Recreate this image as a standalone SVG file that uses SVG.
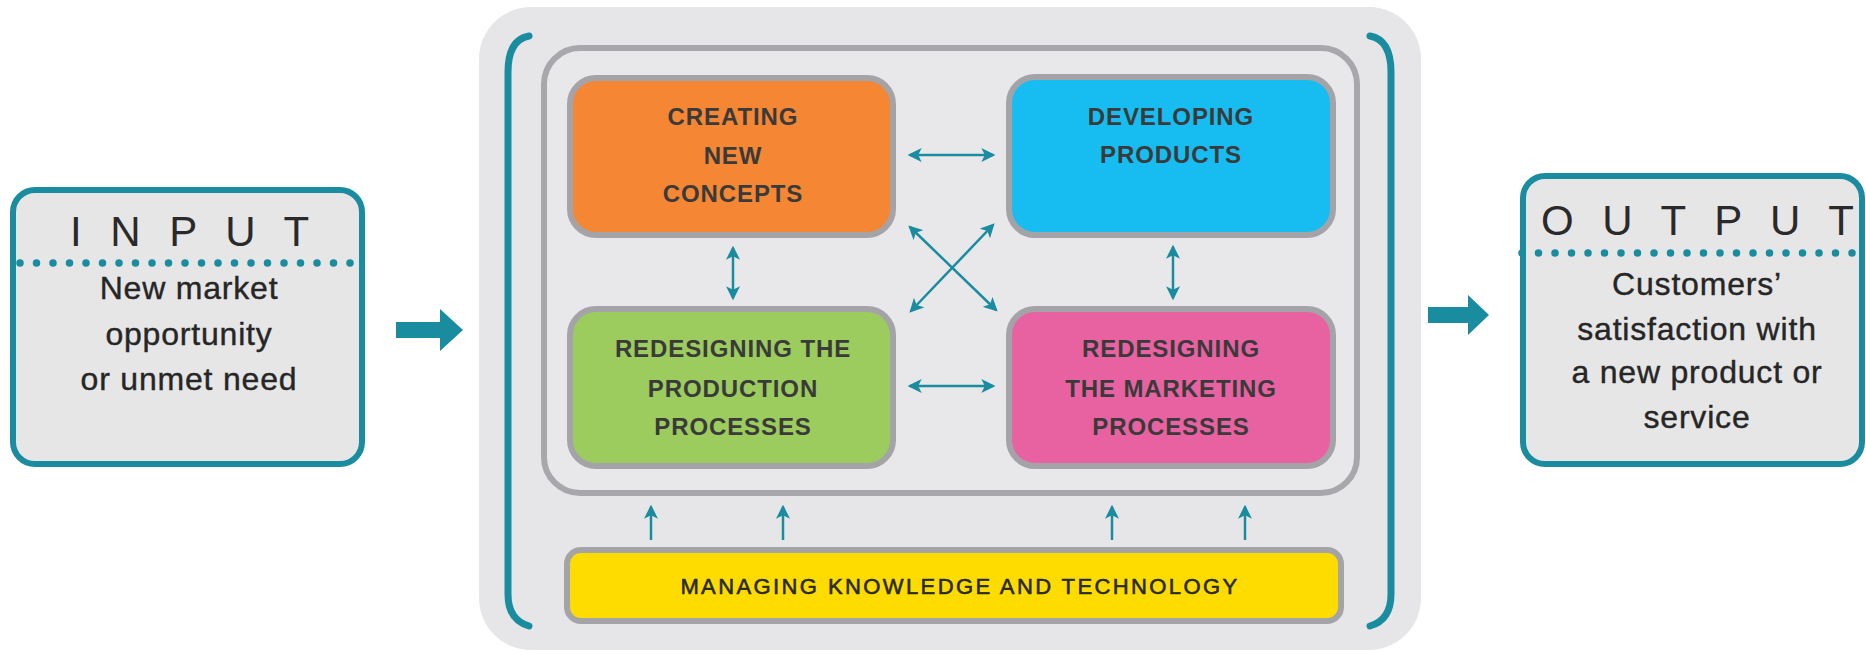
<svg xmlns="http://www.w3.org/2000/svg" width="1866" height="653" viewBox="0 0 1866 653">
<style>
.io{fill:#e6e6e6;stroke:#1a8ca0;stroke-width:6}
.dots{stroke:#1a8ca0;stroke-width:7.5;stroke-linecap:round;stroke-dasharray:0 16.5;fill:none}
.head{font-family:"Liberation Sans",Arial,sans-serif;font-size:42px;fill:#2a2a2a;letter-spacing:8.5px}
.body{font-family:"Liberation Sans",Arial,sans-serif;font-size:32px;fill:#262626;stroke:#262626;stroke-width:0.4;letter-spacing:0.8px;text-anchor:middle}
.box{stroke:#a4a4a8;stroke-width:6}
.lbl{font-family:"Liberation Sans",Arial,sans-serif;font-size:24px;font-weight:bold;fill:#3a3a3a;letter-spacing:0.9px;text-anchor:middle}
.con{stroke:#1a8ca0;stroke-width:2.5;fill:none}
.bracket{stroke:#1a8ca0;stroke-width:7;fill:none;stroke-linecap:round}
.big{fill:#1a8ca0}
</style>
<defs>
<marker id="ah" viewBox="0 0 12 12" refX="10" refY="6" markerWidth="14" markerHeight="14" markerUnits="userSpaceOnUse" orient="auto-start-reverse">
<path d="M0,0 L12,6 L0,12 L3,6 Z" fill="#1a8ca0"/>
</marker>
</defs>

<g id="center-panel">
<rect x="479" y="7" width="942" height="643" rx="52" fill="#e6e6e8"/>
<path class="bracket" d="M529,36 Q508,40 508,72 L508,594 Q508,620 529,626"/>
<path class="bracket" d="M1370,36 Q1391,40 1391,72 L1391,594 Q1391,620 1370,626"/>
<rect x="544" y="48" width="813" height="445" rx="36" fill="#e8e8ea" stroke="#a8a8ac" stroke-width="6"/>
</g>

<g id="input">
<rect class="io" x="13" y="190" width="349" height="274" rx="22"/>
<line class="dots" x1="20" y1="263" x2="352" y2="263"/>
<text class="head" x="70" y="246">I N P U T</text>
<text class="body" x="189" y="299">New market</text>
<text class="body" x="189" y="345">opportunity</text>
<text class="body" x="189" y="390">or unmet need</text>
</g>

<g id="output">
<rect class="io" x="1523" y="176" width="339" height="288" rx="22"/>
<line class="dots" x1="1522" y1="253" x2="1864" y2="253"/>
<text class="head" x="1541" y="235">O U T P U T</text>
<text class="body" x="1697" y="295">Customers’</text>
<text class="body" x="1697" y="340">satisfaction with</text>
<text class="body" x="1697" y="383">a new product or</text>
<text class="body" x="1697" y="428">service</text>
</g>

<g id="creating">
<rect class="box" x="570" y="78" width="323" height="157" rx="26" fill="#f58634"/>
<text class="lbl" x="733" y="125">CREATING</text>
<text class="lbl" x="733" y="164">NEW</text>
<text class="lbl" x="733" y="202">CONCEPTS</text>
</g>

<g id="developing">
<rect class="box" x="1009" y="77" width="324" height="158" rx="26" fill="#17bdf0"/>
<text class="lbl" x="1171" y="125">DEVELOPING</text>
<text class="lbl" x="1171" y="163">PRODUCTS</text>
</g>

<g id="production">
<rect class="box" x="570" y="309" width="323" height="157" rx="26" fill="#9ccb5e"/>
<text class="lbl" x="733" y="357">REDESIGNING THE</text>
<text class="lbl" x="733" y="397">PRODUCTION</text>
<text class="lbl" x="733" y="435">PROCESSES</text>
</g>

<g id="marketing">
<rect class="box" x="1009" y="309" width="324" height="157" rx="26" fill="#e862a2"/>
<text class="lbl" x="1171" y="357">REDESIGNING</text>
<text class="lbl" x="1171" y="397">THE MARKETING</text>
<text class="lbl" x="1171" y="435">PROCESSES</text>
</g>

<g id="knowledge">
<rect class="box" x="567" y="550" width="774" height="71" rx="14" fill="#ffdc00"/>
<text class="lbl" x="960" y="594" style="font-size:22px;font-weight:normal;letter-spacing:2.4px;fill:#2a2a2a;stroke:#2a2a2a;stroke-width:0.6">MANAGING KNOWLEDGE AND TECHNOLOGY</text>
</g>

<g id="connectors">
<polygon class="big" points="396,322 440,322 440,309 463,330 440,351 440,338 396,338"/>
<polygon class="big" points="1428,307 1468,307 1468,295 1489,315 1468,335 1468,323 1428,323"/>
<line class="con" x1="910" y1="155" x2="993" y2="155" marker-start="url(#ah)" marker-end="url(#ah)"/>
<line class="con" x1="910" y1="386" x2="993" y2="386" marker-start="url(#ah)" marker-end="url(#ah)"/>
<line class="con" x1="733" y1="248" x2="733" y2="298" marker-start="url(#ah)" marker-end="url(#ah)"/>
<line class="con" x1="1173" y1="247" x2="1173" y2="298" marker-start="url(#ah)" marker-end="url(#ah)"/>
<line class="con" x1="910" y1="227" x2="996" y2="310" marker-start="url(#ah)" marker-end="url(#ah)"/>
<line class="con" x1="993" y1="225" x2="911" y2="311" marker-start="url(#ah)" marker-end="url(#ah)"/>
<line class="con" x1="651" y1="540" x2="651" y2="507" marker-end="url(#ah)"/>
<line class="con" x1="783" y1="540" x2="783" y2="507" marker-end="url(#ah)"/>
<line class="con" x1="1112" y1="540" x2="1112" y2="507" marker-end="url(#ah)"/>
<line class="con" x1="1245" y1="540" x2="1245" y2="507" marker-end="url(#ah)"/>
</g>
</svg>
